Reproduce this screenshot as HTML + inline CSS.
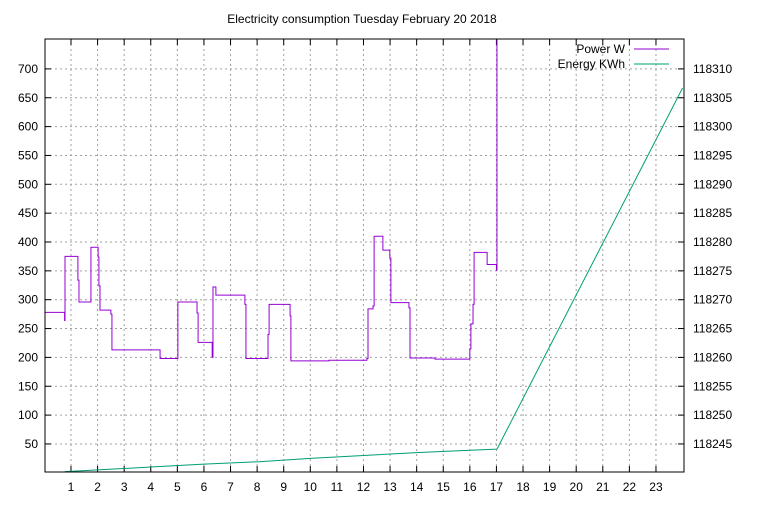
<!DOCTYPE html>
<html><head><meta charset="utf-8"><style>
body{margin:0;background:#fff}
svg text{font-family:"Liberation Sans",sans-serif;font-size:12px;fill:#000}
</style></head><body>
<svg id="c" width="768" height="500" xmlns="http://www.w3.org/2000/svg">
<rect width="768" height="500" fill="#fff"/>
<text x="362" y="23" text-anchor="middle">Electricity consumption Tuesday February 20 2018</text>
<defs><clipPath id="pc"><rect x="45" y="39" width="639" height="433"/></clipPath></defs>
<g id="grid"></g>
<g id="axes"></g>
<g id="series" clip-path="url(#pc)"></g>
<g>
<text x="625" y="53" text-anchor="end">Power W</text>
<line x1="634" y1="49" x2="669" y2="49" stroke="#9400d3" stroke-width="1"/>
<text x="625" y="68" text-anchor="end">Energy KWh</text>
<line x1="634" y1="64" x2="669" y2="64" stroke="#009e73" stroke-width="1"/>
</g>
<rect x="45" y="39" width="639" height="433" fill="none" stroke="#000" stroke-width="1"/>
</svg>
<script>
const xTicks=[1,2,3,4,5,6,7,8,9,10,11,12,13,14,15,16,17,18,19,20,21,22,23];
const yTicks=[50,100,150,200,250,300,350,400,450,500,550,600,650,700];
const y2Ticks=[118245,118250,118255,118260,118265,118270,118275,118280,118285,118290,118295,118300,118305,118310];
const powerTimes=[0,0.76,0.775,1.26,1.30,1.75,2.02,2.05,2.09,2.50,2.54,4.35,5.02,5.74,5.78,6.31,6.34,6.45,7.54,7.58,8.41,8.45,9.24,9.27,10.70,12.13,12.17,12.36,12.40,12.73,12.99,13.03,13.71,13.75,14.69,16.00,16.04,16.12,16.16,16.65,17.0,17.02];
const powerValues=[278,264,375,334,296,391,374,324,282,275,213,198,296,277,226,200,322,308,292,198,240,292,272,194,195,198,284,289,410,386,372,295,286,199,197,215,258,292,382,361,351,900];
const energyTimes=[0.77,2,4,6,8,10,12,14,16,17.02,24];
const energyValues=[118240.2,118240.5,118241.0,118241.5,118241.9,118242.5,118243.0,118243.5,118243.9,118244.1,118306.7];
const NS="http://www.w3.org/2000/svg";
const X=h=>44.4+h*26.59;
const Y=w=>472.8-w*0.5770;
const Y2=e=>Y((e-118240)*10);
function mk(tag,attrs,parent){const e=document.createElementNS(NS,tag);for(const k in attrs)e.setAttribute(k,attrs[k]);parent.appendChild(e);return e;}
const grid=document.getElementById('grid'),axes=document.getElementById('axes'),ser=document.getElementById('series');
xTicks.forEach(t=>{const x=X(t);
 const g=mk('line',{x1:x,y1:39,x2:x,y2:472,stroke:'#a0a0a0','stroke-dasharray':'2,3'},grid);
 
 
 const tk=mk('path',{d:`M${x},472v-6M${x},39v6`,stroke:'#000'},axes);
 
 
 const l=mk('text',{x:x,y:491,'text-anchor':'middle'},axes);l.textContent=t;
 
 
});
yTicks.forEach(t=>{const y=Y(t);
 const g=mk('line',{x1:45,y1:y,x2:684,y2:y,stroke:'#a0a0a0','stroke-dasharray':'2,3'},grid);
 
 
 const tk=mk('path',{d:`M45,${y}h6`,stroke:'#000'},axes);
 
 
 const l=mk('text',{x:38,y:y+4,'text-anchor':'end'},axes);l.textContent=t;
 
 
});
y2Ticks.forEach(t=>{const y=Y2(t);
 const tk=mk('path',{d:`M684,${y}h-6`,stroke:'#000'},axes);
 
 
 const l=mk('text',{x:693,y:y+4,'text-anchor':'start'},axes);l.textContent=t;
 
 
});
let d=`M${X(powerTimes[0])},${Y(powerValues[0])}`;
for(let i=1;i<powerTimes.length;i++){d+=`H${X(powerTimes[i])}V${Y(powerValues[i])}`;}
const p=mk('path',{d:d,fill:'none',stroke:'#9400d3','stroke-width':1},ser);


const ed=energyTimes.map((t,i)=>(i?'L':'M')+X(t)+','+Y2(energyValues[i])).join('');
const e=mk('path',{d:ed,fill:'none',stroke:'#009e73','stroke-width':1},ser);


</script>
</body></html>
